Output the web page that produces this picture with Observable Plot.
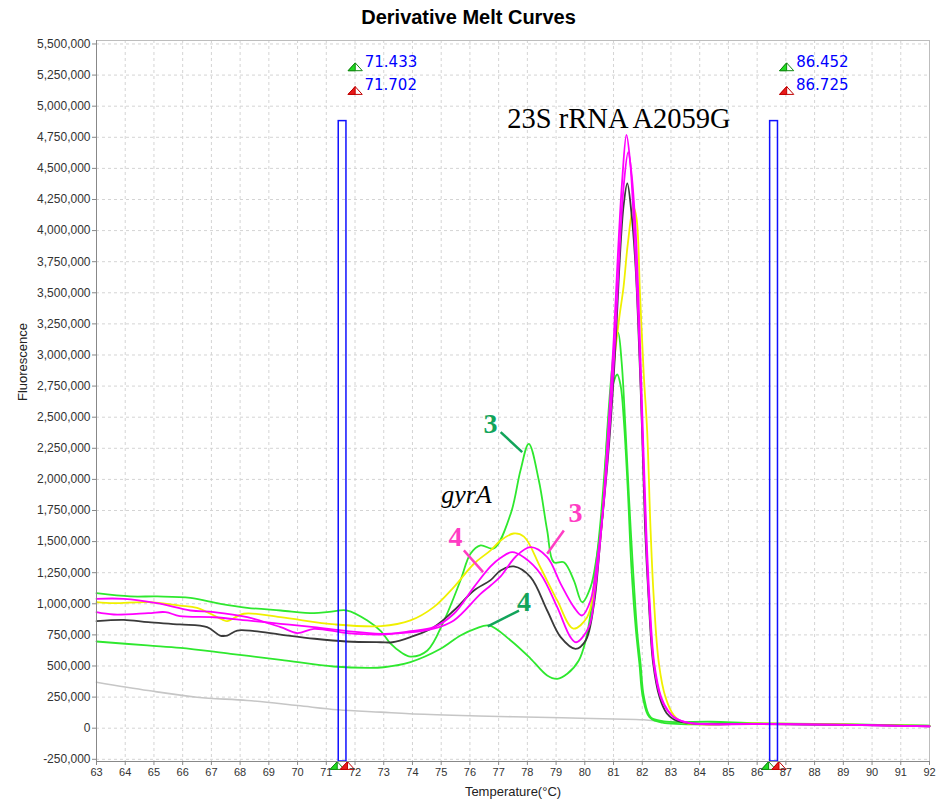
<!DOCTYPE html>
<html><head><meta charset="utf-8">
<script src="https://cdn.jsdelivr.net/npm/d3@7"></script>
<script src="https://cdn.jsdelivr.net/npm/@observablehq/plot@0.6"></script>
<style>
body{margin:0;background:#fff;}
#title{height:36px;box-sizing:border-box;padding-top:6px;line-height:24px;text-align:center;font:bold 20px "Liberation Sans",Arial,sans-serif;color:#000;}
svg{display:block;}
</style></head><body>
<div id="title">Derivative Melt Curves</div>
<div id="chart"></div>
<script>
// ---- axis ticks ----
const xTicks = [63,64,65,66,67,68,69,70,71,72,73,74,75,76,77,78,79,80,81,82,83,84,85,86,87,88,89,90,91,92];
const yTicks = [-250000,0,250000,500000,750000,1000000,1250000,1500000,1750000,2000000,2250000,2500000,2750000,3000000,3250000,3500000,3750000,4000000,4250000,4500000,4750000,5000000,5250000,5500000];
const xDomain = [63, 92];
const yDomain = [-267700, 5528000];

// ---- series: [temperature °C, -dF/dT] ----
const gray = [[63.0,370000],[64.8,303000],[66.5,249000],[68.25,223000],[70.0,182000],[71.4,148000],[72.9,129000],[73.9,116000],[75.7,102000],[77.5,92000],[79.2,84000],[81.0,74000],[82.05,68000],[82.8,52000],[83.5,45000],[86.0,38000],[89.0,30000],[92.0,22000]];
const black = [[63.0,860000],[63.95,871000],[64.8,852000],[65.9,834000],[66.85,812000],[67.3,745000],[67.55,745000],[67.9,785000],[68.5,780000],[69.4,753000],[70.6,719000],[71.7,697000],[72.9,691000],[73.3,691000],[73.93,732000],[74.74,812000],[75.44,946000],[76.14,1107000],[76.72,1190000],[77.07,1268000],[77.53,1300000],[78.11,1214000],[78.69,946000],[79.16,732000],[79.68,638000],[80.03,705000],[80.32,1000000],[80.55,1540000],[80.85,2300000],[81.05,3000000],[81.2,3700000],[81.35,4200000],[81.48,4380000],[81.62,4150000],[81.77,3700000],[81.9,3000000],[82.0,2350000],[82.1,1600000],[82.22,1050000],[82.38,520000],[82.6,250000],[82.85,120000],[83.1,70000],[83.6,40000],[86.0,33000],[89.0,27000],[92.0,15000]];
const yellow = [[63.0,1013000],[63.6,1005000],[64.8,1013000],[65.9,986000],[66.5,968000],[67.4,871000],[67.55,860000],[68.13,920000],[69.4,892000],[71.3,834000],[72.9,820000],[73.93,866000],[74.74,973000],[75.44,1134000],[76.14,1322000],[76.72,1430000],[77.07,1509000],[77.52,1565000],[77.88,1540000],[78.46,1290000],[79.04,1027000],[79.6,801000],[80.08,892000],[80.32,1130000],[80.55,1540000],[80.8,2300000],[81.0,2900000],[81.2,3300000],[81.35,3550000],[81.5,3900000],[81.69,4190000],[81.8,4100000],[81.92,3500000],[82.05,2850000],[82.17,2390000],[82.29,1590000],[82.4,1050000],[82.58,518000],[82.81,249000],[83.1,104000],[83.45,45000],[86.0,38000],[89.0,30000],[92.0,18000]];
const magentaA = [[63.0,1040000],[63.95,1040000],[65.1,1005000],[66.27,946000],[67.09,933000],[68.25,892000],[69.41,812000],[69.99,765000],[70.57,799000],[71.73,764000],[72.9,753000],[73.93,780000],[74.74,812000],[75.44,920000],[76.14,1134000],[76.72,1300000],[77.07,1370000],[77.47,1415000],[77.9,1370000],[78.46,1240000],[79.04,973000],[79.5,732000],[79.7,691000],[80.14,812000],[80.37,1130000],[80.6,1670000],[80.8,2350000],[81.0,3100000],[81.15,3800000],[81.3,4400000],[81.45,4770000],[81.58,4550000],[81.72,4000000],[81.87,3250000],[82.0,2390000],[82.12,1590000],[82.23,1050000],[82.4,518000],[82.64,249000],[82.85,150000],[83.1,88000],[83.68,40000],[86.0,35000],[89.0,28000],[92.0,15000]];
const magentaB = [[63.0,933000],[63.6,914000],[64.8,925000],[65.4,933000],[65.9,901000],[67.1,892000],[68.25,866000],[69.41,839000],[70.57,812000],[71.73,780000],[72.9,759000],[73.93,770000],[74.74,800000],[75.44,866000],[76.37,1080000],[76.72,1147000],[77.07,1220000],[77.6,1380000],[78.11,1455000],[78.69,1375000],[79.16,1160000],[79.62,973000],[79.9,906000],[80.2,1027000],[80.43,1350000],[80.6,1670000],[80.85,2350000],[81.05,3100000],[81.2,3800000],[81.35,4350000],[81.51,4630000],[81.63,4450000],[81.77,4000000],[81.9,3250000],[82.02,2390000],[82.14,1590000],[82.25,1050000],[82.42,518000],[82.66,249000],[82.9,140000],[83.15,80000],[83.7,40000],[86.0,33000],[89.0,27000],[92.0,14000]];
const greenA = [[63.0,1085000],[64.18,1059000],[65.11,1059000],[66.27,1048000],[67.32,1000000],[68.25,968000],[69.41,946000],[70.57,925000],[71.1,935000],[71.73,946000],[72.43,866000],[72.9,780000],[73.24,679000],[73.6,610000],[73.93,576000],[74.52,625000],[75.1,866000],[75.67,1187000],[76.02,1402000],[76.37,1469000],[76.83,1445000],[77.42,1724000],[77.76,2072000],[78.05,2286000],[78.4,1991000],[78.69,1589000],[78.92,1334000],[79.27,1334000],[79.62,1187000],[79.91,1013000],[80.2,1134000],[80.43,1402000],[80.6,1669000],[80.78,2390000],[80.95,2900000],[81.05,3100000],[81.16,3180000],[81.28,2950000],[81.42,2390000],[81.6,1590000],[81.82,785000],[81.94,520000],[82.06,249000],[82.29,88000],[82.75,55000],[84.4,52000],[86.0,40000],[89.0,32000],[92.0,20000]];
const greenB = [[63.0,697000],[64.77,665000],[65.92,646000],[67.67,598000],[69.41,550000],[71.26,496000],[72.5,485000],[73.0,490000],[73.93,531000],[74.98,638000],[75.67,745000],[76.2,800000],[76.66,826000],[77.42,705000],[78.11,560000],[78.69,424000],[79.04,397000],[79.39,437000],[79.79,544000],[80.03,705000],[80.2,920000],[80.37,1270000],[80.55,1670000],[80.7,2100000],[80.88,2610000],[81.0,2780000],[81.13,2843000],[81.25,2750000],[81.36,2470000],[81.5,1900000],[81.62,1300000],[81.78,785000],[81.9,520000],[82.02,249000],[82.25,88000],[82.7,45000],[86.0,35000],[89.0,28000],[92.0,18000]];

// ---- melt-region markers ----
const markerStart = [71.433, 86.452];
const markerEnd = [71.702, 86.725];
const markerTop = 4880000;

// ---- annotations (data coordinates) ----
const peakLabel = [{label: "23S rRNA A2059G", t: 81.19, v: 4900000}];
const geneLabel = [{label: "gyrA", t: 75.88, v: 1880000}];
const greenNumLabels = [{label: "3", t: 76.72, v: 2449000}, {label: "4", t: 77.88, v: 1013000}];
const pinkNumLabels = [{label: "3", t: 79.68, v: 1726000}, {label: "4", t: 75.5, v: 1533000}];
const greenLeaders = [{t1: 77.07, v1: 2380000, t2: 77.82, v2: 2219000}, {t1: 77.71, v1: 946000, t2: 76.62, v2: 818000}];
const pinkLeaders = [{t1: 79.27, v1: 1589000, t2: 78.69, v2: 1402000}, {t1: 75.79, v1: 1429000, t2: 76.46, v2: 1254000}];

// ---- styles ----
const series = [
  {data: gray, color: "#c6c6c6", w: 1.6},
  {data: greenB, color: "#2ee82e", w: 1.8},
  {data: greenA, color: "#2ee82e", w: 1.8},
  {data: yellow, color: "#f0f000", w: 1.8},
  {data: black, color: "#3a3a3a", w: 1.8},
  {data: magentaB, color: "#ff00ff", w: 1.8},
  {data: magentaA, color: "#ff00ff", w: 1.8}
];

const triFull = {draw(ctx, size) {const w = Math.sqrt(size), h = w * 0.55; ctx.moveTo(-w/2, h/2); ctx.lineTo(0, -h/2); ctx.lineTo(w/2, h/2); ctx.closePath();}};
const triHalf = {draw(ctx, size) {const w = Math.sqrt(size), h = w * 0.55; ctx.moveTo(-w/2, h/2); ctx.lineTo(0, -h/2); ctx.lineTo(0, h/2); ctx.closePath();}};

const fmtY = d => d3.format(",")(d).replace("\u2212", "-");
const sans = "Liberation Sans, Arial, sans-serif";
const serif = "Liberation Serif, Times New Roman, serif";

function tri(values, fillColor, strokeColor, dx, dy, anchor) {
  return [
    Plot.dot(values, {x: d => d, frameAnchor: anchor, dx, dy, symbol: triFull, r: 8, fill: "white", stroke: strokeColor, strokeWidth: 1}),
    Plot.dot(values, {x: d => d, frameAnchor: anchor, dx, dy, symbol: triHalf, r: 8, fill: fillColor, stroke: strokeColor, strokeWidth: 1})
  ];
}

const chart = Plot.plot({
  width: 937,
  height: 769,
  marginLeft: 96,
  marginRight: 8,
  marginTop: 4,
  marginBottom: 44,
  style: {fontFamily: sans, color: "#333", background: "white", overflow: "visible"},
  x: {domain: xDomain},
  y: {domain: yDomain},
  marks: [
    Plot.gridX(xTicks, {stroke: "#d4d4d4", strokeOpacity: 1, strokeDasharray: "3,3"}),
    Plot.gridY(yTicks, {stroke: "#d4d4d4", strokeOpacity: 1, strokeDasharray: "3,3"}),
    Plot.frame({stroke: "#bdbdbd"}),
    ...series.map(s => Plot.line(s.data, {x: d => d[0], y: d => d[1], stroke: s.color, strokeWidth: s.w, curve: "catmull-rom"})),
    Plot.rect(d3.range(markerStart.length), {x1: i => markerStart[i], x2: i => markerEnd[i], y1: yDomain[0], y2: markerTop, fill: "none", stroke: "#1010ff", strokeWidth: 1.5}),
    ...tri(markerStart, "#22dd22", "#118a11", 16.5, 26.3, "top"),
    ...tri(markerEnd, "#e81c1c", "#c00000", 8.7, 50, "top"),
    ...tri(markerStart, "#22dd22", "#118a11", -1.5, 4, "bottom"),
    ...tri(markerEnd, "#e81c1c", "#c00000", 1, 4, "bottom"),
    Plot.text(markerStart, {x: d => d, frameAnchor: "top", text: d => d.toFixed(3), dx: 26, dy: 15.7, textAnchor: "start", fill: "#0000ff", fontSize: 15, fontFamily: "DejaVu Sans, sans-serif"}),
    Plot.text(markerEnd, {x: d => d, frameAnchor: "top", text: d => d.toFixed(3), dx: 18, dy: 39.3, textAnchor: "start", fill: "#0000ff", fontSize: 15, fontFamily: "DejaVu Sans, sans-serif"}),
    Plot.text(peakLabel, {x: "t", y: "v", text: "label", fontSize: 28.5, fontFamily: serif, fill: "#000"}),
    Plot.text(geneLabel, {x: "t", y: "v", text: "label", fontSize: 26, fontFamily: serif, fontStyle: "italic", fill: "#000"}),
    Plot.link(greenLeaders, {x1: "t1", y1: "v1", x2: "t2", y2: "v2", stroke: "#12a45a", strokeWidth: 2.5}),
    Plot.link(pinkLeaders, {x1: "t1", y1: "v1", x2: "t2", y2: "v2", stroke: "#ff3cc4", strokeWidth: 2.5}),
    Plot.text(greenNumLabels, {x: "t", y: "v", text: "label", fontSize: 28, fontWeight: "bold", fontFamily: serif, fill: "#12a45a"}),
    Plot.text(pinkNumLabels, {x: "t", y: "v", text: "label", fontSize: 28, fontWeight: "bold", fontFamily: serif, fill: "#ff3cc4"}),
    Plot.ruleX([xDomain[0]], {stroke: "#888"}),
    Plot.ruleY([yDomain[0]], {stroke: "#888"}),
    Plot.axisY({ticks: yTicks, tickFormat: fmtY, tickSize: 4, tickPadding: 2, fontSize: 12, stroke: "#888", label: null}),
    Plot.axisX({ticks: xTicks, tickFormat: d => String(d), tickSize: 4, tickPadding: 3, fontSize: 11, stroke: "#888", label: null}),
    Plot.text(["Fluorescence"], {frameAnchor: "left", rotate: -90, dx: -74, fontSize: 13, fill: "#222"}),
    Plot.text(["Temperature(°C)"], {frameAnchor: "bottom", dy: 34, fontSize: 13, fill: "#222"})
  ]
});
document.getElementById("chart").appendChild(chart);
</script>
</body></html>
